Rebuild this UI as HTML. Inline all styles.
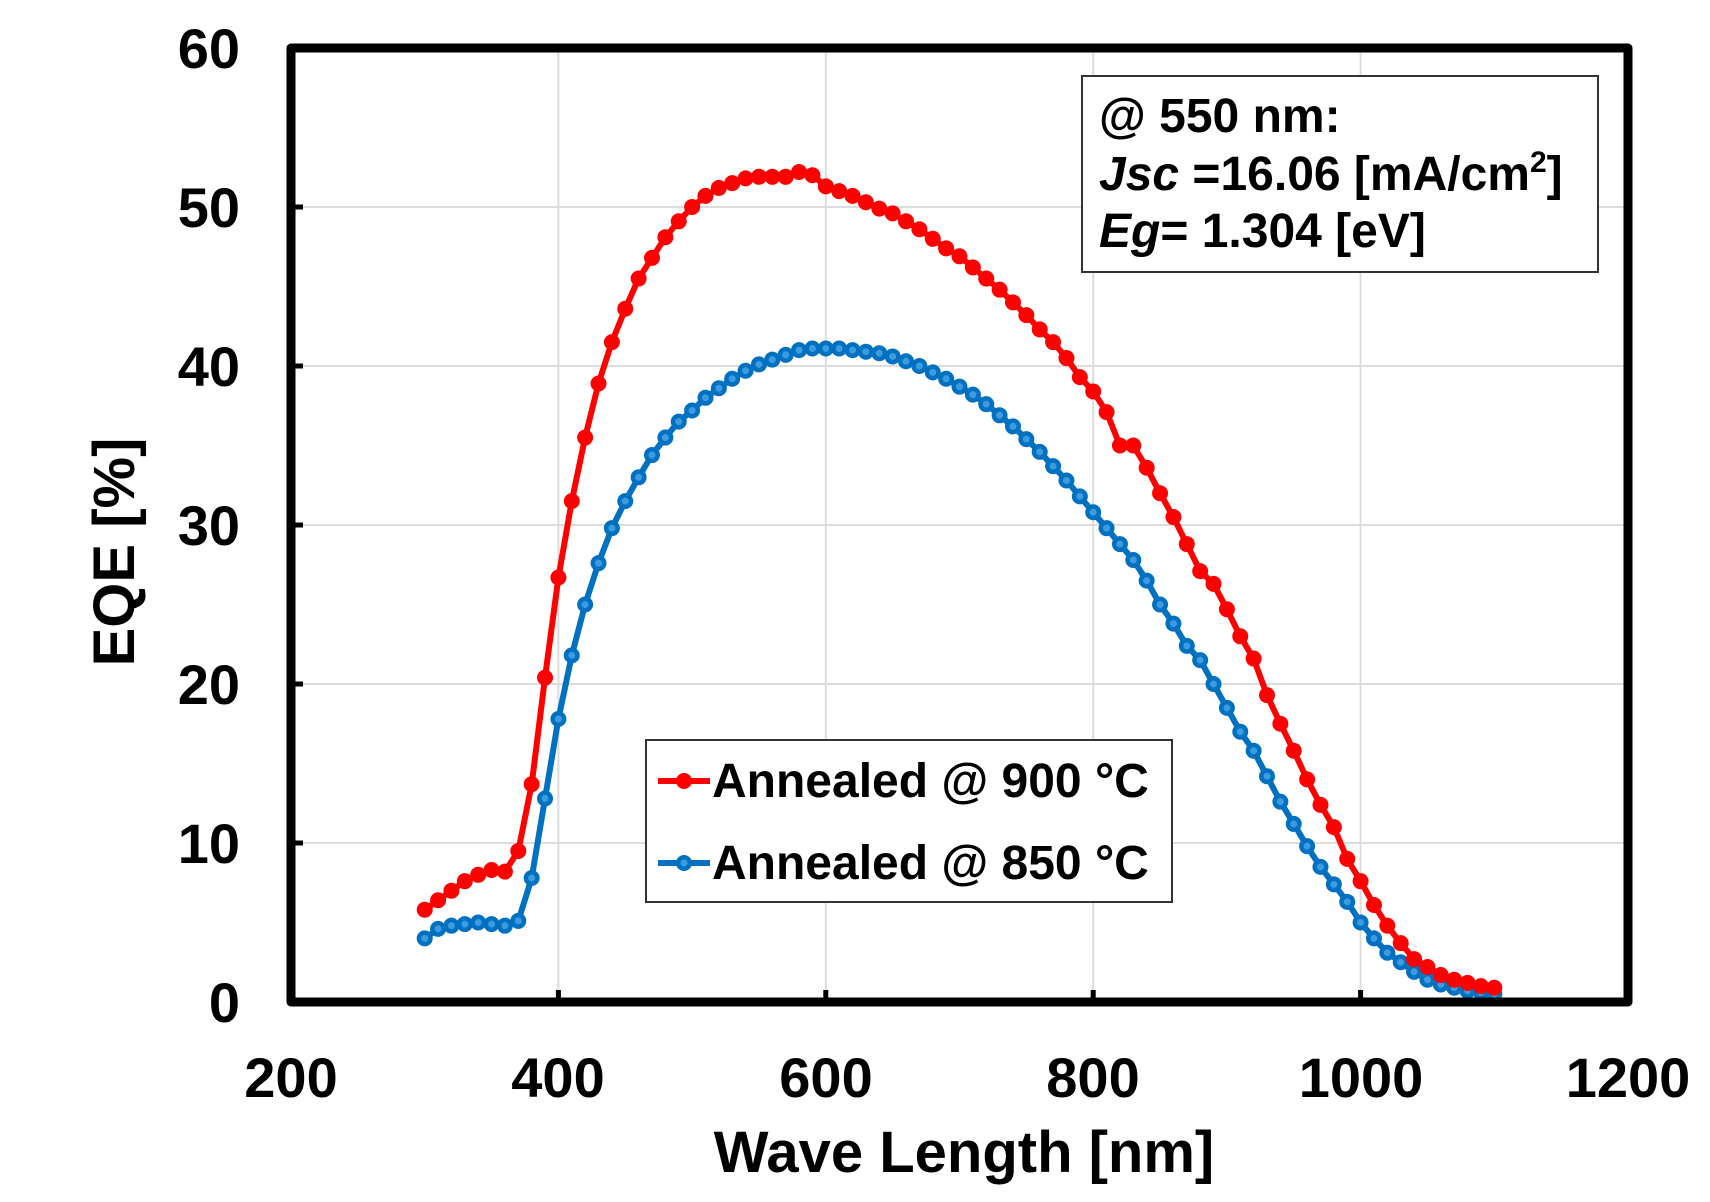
<!DOCTYPE html>
<html><head><meta charset="utf-8"><style>
html,body{margin:0;padding:0;background:#fff;}
svg{display:block;font-family:"Liberation Sans",Arial,sans-serif;font-weight:bold;}
</style></head><body>
<svg id="s" width="1710" height="1202" viewBox="0 0 1710 1202" xmlns="http://www.w3.org/2000/svg">
<g id="grid" stroke="#dcdcdc" stroke-width="2"></g>
<g id="series"></g>
<rect x="291" y="48" width="1337" height="954" fill="none" stroke="#000" stroke-width="9" stroke-linejoin="round"/>
<g id="ticks" stroke="#000" stroke-width="5"></g>
<g font-size="56" fill="#000" text-anchor="end">
<text x="240" y="68">60</text><text x="240" y="227">50</text><text x="240" y="386">40</text>
<text x="240" y="545">30</text><text x="240" y="704">20</text><text x="240" y="863">10</text><text x="240" y="1022">0</text>
</g>
<g font-size="56" fill="#000" text-anchor="middle">
<text x="291" y="1097">200</text><text x="558" y="1097">400</text><text x="826" y="1097">600</text>
<text x="1093" y="1097">800</text><text x="1361" y="1097">1000</text><text x="1628" y="1097">1200</text>
</g>
<g font-size="58" fill="#000" text-anchor="middle">
<text x="964" y="1172">Wave Length [nm]</text>
<text transform="translate(134,552) rotate(-90)">EQE [%]</text>
</g>
<rect x="1082" y="76" width="516" height="196" fill="#fff" stroke="#333" stroke-width="2"/>
<g font-size="48" fill="#000">
<text x="1099" y="132">@ 550 nm:</text>
<text x="1099" y="190"><tspan font-style="italic">Jsc</tspan> =16.06 [mA/cm<tspan font-size="30" dy="-18">2</tspan><tspan dy="18">]</tspan></text>
<text x="1099" y="247"><tspan font-style="italic">Eg</tspan>= 1.304 [eV]</text>
</g>
<rect x="646" y="740" width="526" height="162" fill="#fff" stroke="#333" stroke-width="2"/>
<line x1="658" y1="781" x2="710" y2="781" stroke="#ff0000" stroke-width="6"/>
<circle cx="684" cy="781" r="8" fill="#ff0000"/>
<line x1="658" y1="863" x2="710" y2="863" stroke="#0070c0" stroke-width="6"/>
<circle cx="684" cy="863" r="8" fill="#0070c0"/><circle cx="684" cy="863" r="3.5" fill="#3d9be0"/>
<g font-size="48" fill="#000">
<text x="712" y="797">Annealed @ 900 °C</text>
<text x="712" y="879">Annealed @ 850 °C</text>
</g>
</svg>
<script>
var NS="http://www.w3.org/2000/svg";
function px(x){return 291+(x-200)*1.337;}
function py(y){return 1002-y*15.9;}
function el(t,a,p){var e=document.createElementNS(NS,t);for(var k in a)e.setAttribute(k,a[k]);p.appendChild(e);return e;}
var g=document.getElementById('grid'),tk=document.getElementById('ticks');
for(var x=400;x<=1000;x+=200){el('line',{x1:px(x),y1:48,x2:px(x),y2:1002},g);el('line',{x1:px(x),y1:1002,x2:px(x),y2:990},tk);}
for(var y=10;y<=50;y+=10){el('line',{x1:291,y1:py(y),x2:1628,y2:py(y)},g);el('line',{x1:291,y1:py(y),x2:303,y2:py(y)},tk);}
var red=[5.8,6.4,7.0,7.6,8.0,8.3,8.2,9.5,13.7,20.4,26.7,31.5,35.5,38.9,41.5,43.6,45.5,46.8,48.1,49.1,50.0,50.7,51.2,51.5,51.8,51.9,51.9,51.9,52.2,52.0,51.3,51.0,50.7,50.3,49.9,49.6,49.1,48.6,48.0,47.4,46.9,46.2,45.5,44.8,44.0,43.2,42.3,41.5,40.5,39.3,38.4,37.1,35.0,35.0,33.6,32.0,30.5,28.8,27.1,26.3,24.7,23.0,21.6,19.3,17.5,15.8,14.0,12.4,11.0,9.0,7.6,6.1,4.8,3.7,2.7,2.2,1.7,1.4,1.2,1.0,0.9];
var blue=[4.0,4.6,4.8,4.9,5.0,4.9,4.8,5.1,7.8,12.8,17.8,21.8,25.0,27.6,29.8,31.5,33.0,34.4,35.5,36.5,37.2,38.0,38.6,39.2,39.7,40.1,40.4,40.7,41.0,41.1,41.1,41.1,41.0,40.9,40.8,40.6,40.3,40.0,39.6,39.2,38.7,38.2,37.6,36.9,36.2,35.4,34.6,33.7,32.8,31.8,30.8,29.8,28.8,27.8,26.5,25.0,23.8,22.4,21.5,20.0,18.5,17.0,15.8,14.2,12.6,11.2,9.8,8.5,7.4,6.3,5.0,4.0,3.1,2.5,1.9,1.4,1.1,0.9,0.7,0.6,0.5];
var s=document.getElementById('series');
function draw(d,c,inner){var pts=d.map(function(v,i){return px(300+10*i).toFixed(1)+','+py(v).toFixed(1);}).join(' ');
el('polyline',{points:pts,fill:'none',stroke:c,'stroke-width':6,'stroke-linejoin':'round'},s);
d.forEach(function(v,i){el('circle',{cx:px(300+10*i),cy:py(v),r:8,fill:c},s);if(inner)el('circle',{cx:px(300+10*i),cy:py(v),r:3.5,fill:inner},s);});}
draw(blue,'#0070c0','#3d9be0');
draw(red,'#ff0000',null);
</script>
</body></html>
